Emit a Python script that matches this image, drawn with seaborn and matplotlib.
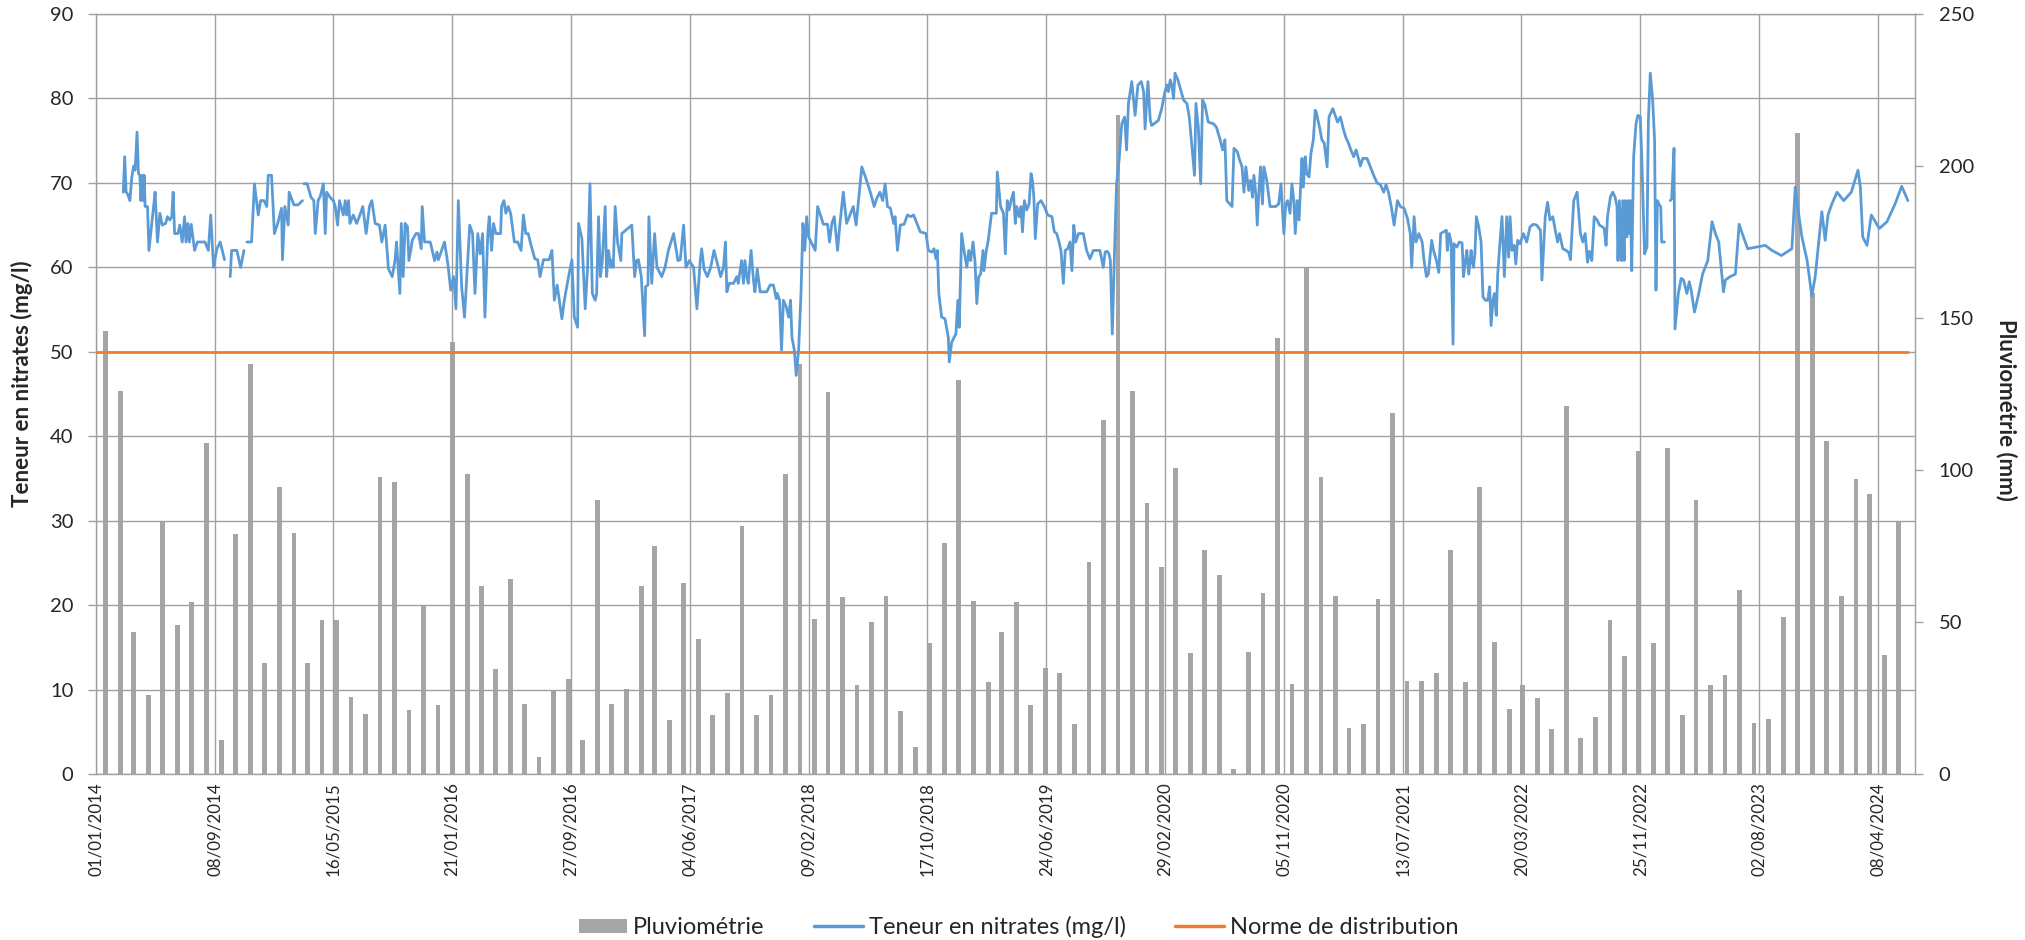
import numpy as np
import pandas as pd
import matplotlib
matplotlib.use("Agg")
import matplotlib.pyplot as plt
import matplotlib.dates as mdates
from matplotlib.patches import Patch
from matplotlib.lines import Line2D
import seaborn as sns

# ---------------- data ----------------
start_date = "2014-01-01"
x_end_date = "2024-06-25"
tick_step_days = 250

# monthly rainfall (mm), January 2014 -> May 2024
rain_first_month = "2014-01"
rain_mm = [
    145.8, 126.0, 46.6, 25.9, 83.3, 49.0, 56.6, 109.0, 11.3, 78.8, 135.0, 36.4,   # 2014
    94.5, 79.4, 36.4, 50.5, 50.5, 25.3, 19.8, 97.8, 96.2, 21.2, 55.5, 22.6,       # 2015
    142.0, 98.6, 61.9, 34.7, 64.3, 23.0, 5.6, 27.6, 31.1, 11.3, 90.1, 23.0,       # 2016
    28.1, 61.9, 75.0, 17.9, 62.7, 44.3, 19.3, 26.5, 81.6, 19.3, 25.9, 98.7,       # 2017
    135.0, 50.9, 125.6, 58.1, 29.2, 50.1, 58.5, 20.8, 9.0, 43.0, 76.0, 129.5,     # 2018
    57.0, 30.3, 46.7, 56.7, 22.6, 34.9, 33.1, 16.5, 69.9, 116.6, 216.7, 126.0,    # 2019
    89.2, 68.0, 100.5, 39.7, 73.6, 65.5, 1.7, 40.0, 59.4, 143.3, 29.7, 166.7,     # 2020
    97.6, 58.5, 15.1, 16.5, 57.6, 118.6, 30.6, 30.6, 33.1, 73.6, 30.2, 94.5,      # 2021
    43.4, 21.3, 29.2, 25.0, 14.7, 120.9, 11.8, 18.9, 50.5, 38.7, 106.4, 43.0,     # 2022
    107.3, 19.3, 90.1, 29.2, 32.5, 60.4, 16.9, 18.0, 51.5, 210.8, 158.1, 109.4,   # 2023
    58.5, 97.2, 92.0, 39.1, 83.3,                                                 # 2024
]

# nitrate measurements: days after start_date and value (mg/l); None = gap in the record
nitrate_day = [
    58, 61, 64, 67, 72, 76, 80, 83, 87, 90, 93, 95, 98, 100, 102, 104, 109, 112, 121, 125,
    130, 135, 140, 147, 151, 156, 160, 163, 166, 173, 177, 182, 187, 190, 194, 197, 201, 208,
    214, 230, 237, 242, 248, 255, 262, 271, None,
    283, 286, 297, 305, 312, None,
    318, 328, 334, 342, 347, 354, 360, 363, 370, 376, 383, 391, 393, 398, 405, 407, 417, 426, 435, None,
    438, 445, 453, 459, 462, 468, 473, 479, 483, 486, 493, 500, 504, 509, 513, 521, 525, 528, 532,
    535, 542, 549, 556, 562, 569, 576, 581, 588, 597, 602, 609, 616, 624, 630, 633, 640,
    643, 647, 651, 656, 659, 664, 666, 674, 679, 685, 687, 692, 704, 708, 713, 718, 721, 734, 741,
    747, 753, 758, 763, 770, 776, 787, 793, 798, 804, 809, 814, 819, 825, 828, 833, 837, 842, 852,
    854, 859, 863, 868, 873, 881, 888, 895, 900, 905, 910, 917, 924, 930, 935, 942, 954, 960, 965,
    971, 981, 986, 995, 1002, 1007, 1014, 1016, 1023, 1030, 1035, 1040, 1045, 1051, 1054, 1058,
    1062, 1066, 1072, 1075, 1079, 1084, 1086, 1089, 1093, 1098, 1105, 1107, 1128, 1134, 1138, 1142,
    1148, 1155, 1157, 1162, 1164, 1170, 1176, 1181, 1191, 1198, 1205, 1216, 1225, 1230, 1237, 1242,
    1249, 1258, 1265, 1272,
    1275, 1280, 1287, 1294, 1301, 1310, 1315, 1321, 1325, 1328, 1333, 1342, 1349, 1352, 1359, 1363,
    1366, 1370, 1373, 1379, 1384, 1387, 1392, 1398, 1412, 1419, 1426, 1432, 1434, 1439, 1443, 1447,
    1453, 1458, 1462, 1465, 1470, 1474, 1479, 1484, 1488, 1492, 1496, 1500, 1514, 1519, 1526, 1531,
    1540, 1544, 1549, 1554, 1561, 1566, 1573, 1580, 1587, 1594, 1600, 1612, 1622, 1631, 1638, 1643,
    1650, 1656, 1661, 1666, 1672, 1679, 1682, 1687, 1693, 1701, 1708, 1715, 1721, 1728, 1735, 1747,
    1752, 1759, 1764, 1768, 1771, 1774, 1780, 1787, 1794, 1796, 1801, 1806, 1810, 1814, 1817, 1822,
    1827, 1833, 1837, 1841, 1846, 1850, 1854, 1858, 1862, 1867, 1869, 1874, 1878, 1885, 1895, 1897,
    1904, 1910, 1914, 1918,
    1922, 1926, 1931, 1935, 1938, 1943, 1947, 1950, 1954, 1959, 1964, 1968, 1971, 1974, 1977, 1982,
    1989, 1996, 2003, 2012, 2017, 2022, 2027, 2031, 2036, 2040, 2045, 2050, 2054, 2058, 2062, 2068,
    2078, 2085, 2092, 2099, 2113, 2120, 2124, 2128, 2132, 2135, 2139, 2144, 2148, 2153, 2159, 2165,
    2169, 2173, 2180, 2187, 2193, 2200, 2205, 2208, 2214, 2219, 2222, 2236, 2243, 2249, 2254, 2257,
    2261, 2264, 2268, 2271, 2277, 2282, 2289, 2296, 2301, 2312, 2315, 2320, 2325, 2329, 2334, 2341,
    2352, 2358, 2366, 2371, 2376, 2380, 2391, 2395, 2402, 2407, 2412, 2416, 2420, 2426, 2430, 2434,
    2437, 2441, 2444, 2448, 2451, 2455, 2458, 2464, 2471, 2483, 2489, 2494, 2500, 2504, 2508, 2513,
    2517, 2521, 2524, 2528, 2532, 2538, 2541, 2545, 2548, 2553, 2557, 2562, 2566,
    2568, 2575, 2580, 2585, 2591, 2595, 2603, 2608, 2613, 2619, 2626, 2631, 2636, 2641, 2647, 2652,
    2657, 2661, 2666, 2675, 2682, 2689, 2696, 2703, 2710, 2715, 2720, 2726, 2732, 2739, 2745, 2753,
    2760, 2766, 2769, 2774, 2778, 2784, 2791, 2795, 2800, 2804, 2811, 2815, 2821, 2826, 2830, 2836,
    2842, 2844, 2848, 2852, 2856, 2858, 2864, 2869, 2875, 2878, 2882, 2885, 2889, 2894, 2896, 2899,
    2902, 2905, 2910, 2915, 2919, 2924, 2929, 2933, 2936, 2940, 2943, 2947, 2950, 2954, 2959, 2964,
    2969, 2973, 2976, 2980, 2985, 2988, 2992, 2997, 3004, 3011, 3018, 3025, 3032, 3040, 3043, 3050,
    3055, 3060, 3066, 3071, 3076, 3080, 3087, 3094, 3099, 3103, 3110, 3117, 3124, 3129, 3134, 3139,
    3143, 3148, 3153, 3159, 3164, 3170, 3174, 3178, 3181, 3187, 3192, 3197, 3201,
    3203, 3206, 3210, 3213, 3216, 3218, 3222, 3224, 3227, 3229, 3232, 3236, 3241, 3245, 3250, 3253,
    3259, 3264, 3267, 3271, 3276, 3280, 3283, 3286, 3290, 3293, 3295, 3301, None,
    3313, 3316, 3321, 3323, 3330, 3336, 3341, 3348, 3353, 3357, 3364, 3373, 3381, 3392, 3401, 3408,
    3415, 3425, 3429, 3439, 3450, 3458, 3467, 3476, 3513, 3527, 3547, 3569, 3576, 3582, 3590, 3601,
    3611, 3618, 3632, 3639, 3645, 3653, 3664, 3678, 3694, 3708, 3713, 3718, 3727, 3736, 3753, 3769,
    3786, 3800, 3813,
]
nitrate_mg = [
    68.9, 73.1, 68.9, 68.7, 67.9, 70.7, 72.0, 71.5, 76.0, 71.1, 70.9, 67.9, 70.9, 67.9, 70.9, 67.2, 67.2, 62.0, 66.8, 68.9,
    63.0, 66.4, 65.0, 65.2, 66.0, 65.6, 66.0, 68.9, 64.0, 64.0, 65.0, 63.0, 66.0, 63.0, 65.2, 63.0, 65.1, 62.0,
    63.0, 63.0, 62.0, 66.2, 60.0, 62.2, 63.0, 60.9, None,
    58.9, 62.0, 62.0, 60.0, 62.0, None,
    63.0, 63.0, 69.9, 66.2, 67.9, 67.9, 67.2, 70.9, 70.9, 64.0, 65.2, 67.0, 60.9, 67.2, 65.0, 68.9, 67.4, 67.4, 67.9, None,
    69.9, 69.9, 68.3, 67.9, 64.0, 67.9, 68.5, 69.9, 64.0, 68.9, 68.3, 67.9, 67.2, 65.0, 67.9, 66.2, 67.9, 66.2, 67.9,
    65.2, 66.2, 65.2, 66.2, 67.2, 64.0, 67.2, 67.9, 65.2, 65.0, 63.0, 65.0, 59.8, 58.9, 60.9, 63.0, 56.9,
    65.2, 58.9, 65.2, 64.8, 60.8, 62.4, 63.2, 64.0, 64.0, 62.2, 67.2, 63.0, 63.0, 62.0, 60.8, 61.8, 60.9, 63.0, 60.4,
    57.3, 58.9, 55.1, 67.9, 57.7, 54.1, 65.0, 64.0, 56.9, 64.0, 61.6, 64.0, 54.1, 64.0, 66.0, 62.0, 65.2, 64.0, 64.0,
    67.2, 67.9, 66.4, 67.2, 66.4, 63.0, 63.0, 62.0, 66.2, 64.0, 64.0, 62.4, 61.0, 60.9, 58.9, 60.9, 60.9, 62.0, 56.1,
    57.9, 53.9, 56.1, 58.9, 60.9, 54.1, 52.9, 65.2, 63.4, 55.1, 60.0, 69.9, 56.9, 56.1, 56.9, 66.0,
    58.9, 60.8, 67.2, 58.9, 62.0, 60.0, 60.8, 60.0, 67.2, 63.0, 60.8, 64.0, 65.0, 58.9, 60.8, 60.9,
    58.9, 51.9, 57.7, 57.9, 66.0, 58.1, 64.0, 60.0, 58.9, 60.0, 62.0, 64.0, 60.8, 60.9, 65.0, 60.0,
    60.8, 60.0, 55.1, 60.8,
    62.2, 59.8, 58.9, 60.0, 62.0, 60.0, 58.9, 60.0, 63.0, 57.1, 58.1, 58.1, 58.9, 58.1, 60.8, 58.1,
    60.8, 58.9, 58.1, 62.0, 58.5, 57.1, 59.8, 57.1, 57.1, 57.9, 57.9, 56.3, 56.9, 56.1, 50.2, 56.1,
    55.3, 54.1, 56.1, 51.7, 50.2, 47.2, 50.2, 56.9, 65.2, 62.0, 66.0, 63.6, 62.0, 67.2, 66.0, 65.1,
    65.1, 63.0, 65.2, 66.0, 62.0, 65.2, 68.9, 65.2, 66.2, 67.2, 65.0, 71.9, 70.3, 68.7, 67.2, 68.1,
    68.9, 67.9, 69.9, 67.2, 67.0, 65.2, 66.0, 62.0, 65.0, 65.1, 66.2, 66.0, 66.2, 65.2, 64.2, 64.0,
    62.0, 61.8, 62.2, 61.0, 62.0, 56.9, 54.1, 53.9, 51.7, 48.8, 51.1, 51.7, 52.1, 56.1, 52.9, 64.0,
    62.0, 60.0, 62.0, 60.8, 63.0, 60.8, 55.7, 58.9, 59.2, 62.0, 59.6, 62.0, 63.2, 66.4, 66.4, 71.3,
    67.2, 66.4, 61.6, 67.9,
    66.8, 67.9, 68.9, 65.2, 67.2, 66.0, 67.2, 64.2, 67.9, 66.8, 67.5, 71.1, 70.3, 68.3, 63.4, 67.5,
    67.9, 67.2, 66.2, 66.0, 64.2, 64.0, 63.0, 62.0, 58.1, 62.0, 62.2, 63.0, 59.6, 65.0, 63.0, 64.0,
    64.0, 62.0, 61.0, 62.0, 62.0, 60.0, 61.8, 61.9, 61.6, 60.8, 52.1, 62.4, 69.9, 72.5, 77.0, 77.8,
    73.9, 79.4, 82.0, 78.0, 81.6, 82.0, 80.8, 76.4, 82.0, 77.4, 76.8, 77.4, 78.8, 80.6, 81.6, 80.8,
    82.2, 81.6, 80.0, 83.0, 82.2, 81.2, 79.8, 79.4, 77.8, 70.9, 79.4, 76.6, 69.9, 79.8, 79.2, 77.2,
    77.0, 76.6, 75.1, 73.9, 75.1, 67.9, 67.2, 74.1, 73.7, 72.7, 71.9, 68.9, 71.9, 69.1, 70.3, 68.3,
    70.9, 68.7, 65.0, 69.5, 71.9, 67.5, 71.9, 70.3, 67.2, 67.2, 67.5, 69.9, 64.0, 67.5, 67.9, 66.4,
    69.9, 67.9, 64.0, 67.9, 65.6, 72.9, 69.5, 73.1, 71.1, 70.7, 73.5, 75.1, 78.6,
    78.4, 76.6, 75.1, 74.7, 71.9, 77.8, 78.8, 78.0, 77.2, 77.8, 76.2, 75.3, 74.7, 73.9, 73.1, 73.9,
    72.9, 72.0, 72.9, 72.9, 71.9, 70.9, 70.0, 69.8, 68.9, 69.8, 68.9, 67.2, 65.0, 67.9, 67.2, 67.0,
    65.8, 64.0, 60.0, 66.0, 63.0, 64.0, 63.0, 60.8, 58.9, 59.2, 63.2, 62.0, 60.8, 59.4, 64.0, 64.2,
    64.4, 62.0, 64.0, 63.0, 50.9, 62.8, 62.4, 63.0, 62.9, 58.9, 60.8, 62.0, 59.2, 62.0, 60.8, 60.0,
    61.6, 66.0, 64.8, 63.0, 56.5, 56.1, 56.1, 57.7, 53.1, 56.1, 56.9, 54.3, 59.2, 62.4, 66.0, 58.9,
    66.0, 61.2, 66.0, 62.0, 62.6, 60.4, 63.2, 62.8, 64.0, 63.0, 64.8, 65.1, 65.0, 64.4, 58.5, 66.0,
    67.7, 65.6, 66.0, 64.4, 63.0, 64.0, 62.2, 62.0, 61.8, 60.9, 67.9, 68.9, 64.0, 63.0, 64.0, 60.6,
    61.9, 60.8, 66.0, 65.6, 65.0, 64.8, 64.6, 62.6, 66.0, 68.3, 68.9, 68.3, 67.2,
    60.8, 67.9, 60.8, 67.9, 60.8, 67.9, 63.6, 67.9, 64.0, 67.9, 59.6, 73.1, 77.0, 78.0, 77.8, 73.1,
    61.6, 62.4, 77.4, 83.0, 79.8, 75.1, 57.3, 67.9, 67.4, 67.2, 63.0, 63.0, None,
    67.9, 68.1, 74.1, 52.7, 56.9, 58.7, 58.5, 56.9, 58.3, 57.3, 54.7, 56.9, 59.2, 60.8, 65.4, 64.0,
    63.0, 57.1, 58.5, 58.9, 59.2, 65.1, 63.6, 62.2, 62.6, 62.0, 61.4, 62.2, 69.5, 66.8, 63.6, 60.8,
    56.6, 58.9, 66.6, 63.2, 66.2, 67.5, 68.9, 67.9, 68.9, 71.5, 69.5, 63.6, 62.6, 66.2, 64.6, 65.4,
    67.5, 69.6, 67.9,
]

norm_value = 50
norm_dates = ["2014-01-01", "2024-06-10"]

left_ticks = list(range(0, 91, 10))
right_ticks = list(range(0, 251, 50))

labels = ["Pluviométrie", "Teneur en nitrates (mg/l)", "Norme de distribution"]
left_label = "Teneur en nitrates (mg/l)"
right_label = "Pluviométrie (mm)"

# ---------------- styling ----------------
BLUE = "#5B9BD5"
ORANGE = "#ED7D31"
BAR = "#A5A5A5"
GRID = "#A0A0A0"
TXT = "#262626"

sns.set_theme(style="white")
plt.rcParams["font.family"] = ["Lato", "DejaVu Sans"]

W, H = 2025, 940
fig = plt.figure(figsize=(W / 100, H / 100), dpi=100)
ax = fig.add_axes([95.7 / W, 1 - 774 / H, (1915 - 95.7) / W, (774 - 14) / H])
ax2 = ax.twinx()
ax.set_zorder(ax2.get_zorder() + 1)
ax.patch.set_visible(False)

t0 = pd.Timestamp(start_date)

# rainfall bars (right axis)
rain_dates = pd.date_range(rain_first_month + "-01", periods=len(rain_mm), freq="MS") + pd.Timedelta(days=21)
ax2.bar(rain_dates, rain_mm, width=10, color=BAR, linewidth=0, zorder=2)

# nitrate line (left axis), split into continuous segments at gaps
nd = pd.DataFrame({"day": nitrate_day, "mg": nitrate_mg})
nd["seg"] = nd["day"].isna().cumsum()
nd = nd.dropna().copy()
nd["date"] = t0 + pd.to_timedelta(nd["day"].astype(float), unit="D")
sns.lineplot(data=nd, x="date", y="mg", units="seg", estimator=None, sort=False,
             color=BLUE, linewidth=2.0, ax=ax, legend=False, zorder=4)

# distribution norm
norm_df = pd.DataFrame({"date": pd.to_datetime(norm_dates), "v": [norm_value] * len(norm_dates)})
sns.lineplot(data=norm_df, x="date", y="v", color=ORANGE, linewidth=2.0, ax=ax, legend=False, zorder=3)

# axes limits / ticks
x_end = pd.Timestamp(x_end_date)
ax.set_xlim(t0, x_end)
ax.set_ylim(0, 90)
ax2.set_ylim(0, 250)
ax.set_yticks(left_ticks)
ax2.set_yticks(right_ticks)
xt = pd.date_range(t0, x_end, freq=f"{tick_step_days}D")
ax.set_xticks(xt)
ax.xaxis.set_major_formatter(mdates.DateFormatter("%d/%m/%Y"))
ax.set_xlabel("")
ax.set_ylabel("")
ax2.set_ylabel("")

ax.grid(True, color=GRID, linewidth=1.0)
ax2.grid(False)

for s in ["left", "bottom", "top"]:
    ax.spines[s].set_color(GRID)
    ax.spines[s].set_linewidth(1.0)
ax.spines["right"].set_visible(False)
for s in ["left", "bottom", "top"]:
    ax2.spines[s].set_visible(False)
ax2.spines["right"].set_color(GRID)
ax2.spines["right"].set_linewidth(1.0)

ax.tick_params(axis="y", which="both", left=True, length=6, width=1, color=GRID,
               labelsize=14.5, labelcolor=TXT, pad=10)
ax.tick_params(axis="x", which="both", bottom=True, length=0, labelsize=12.2,
               labelcolor=TXT, pad=6, labelrotation=90)
ax2.tick_params(axis="y", which="both", right=True, length=6, width=1, color=GRID,
                labelsize=14.5, labelcolor=TXT, pad=11)

fig.text(22 / W, 1 - 384 / H, left_label, rotation=90, ha="center", va="center",
         fontsize=16, fontweight="bold", color=TXT)
fig.text(2006 / W, 1 - 410 / H, right_label, rotation=270, ha="center", va="center",
         fontsize=16, fontweight="bold", color=TXT)

handles = [
    Patch(facecolor=BAR, edgecolor="none"),
    Line2D([], [], color=BLUE, linewidth=2.5),
    Line2D([], [], color=ORANGE, linewidth=2.5),
]
fig.legend(handles, labels, loc="center", bbox_to_anchor=(0.503, 1 - 927 / H), ncol=3,
           frameon=False, fontsize=17, handlelength=2.05, handleheight=0.55,
           columnspacing=2.1, handletextpad=0.25, labelcolor=TXT)

fig.savefig("out.png", dpi=100, facecolor="white")
